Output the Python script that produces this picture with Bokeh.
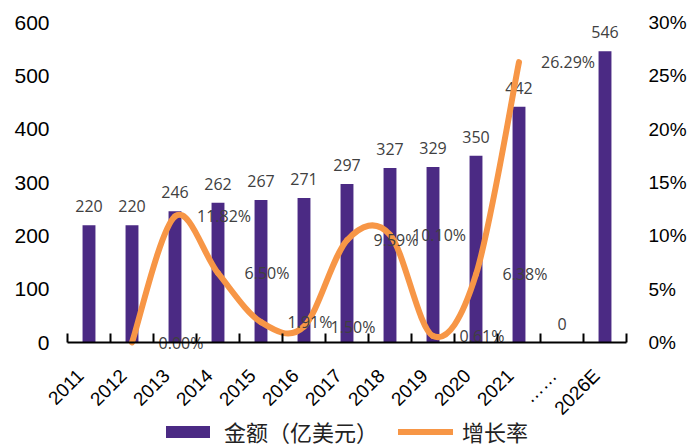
from bokeh.plotting import figure
from bokeh.models import (Range1d, LinearAxis, FixedTicker, ColumnDataSource,
                          Legend, LegendItem)
from bokeh.core.properties import value
from bokeh.embed import file_html
from bokeh.resources import INLINE

categories = ["2011", "2012", "2013", "2014", "2015", "2016", "2017",
              "2018", "2019", "2020", "2021", "……", "2026E"]
amounts = [220, 220, 246, 262, 267, 271, 297, 327, 329, 350, 442, 0, 546]
amount_labels = ["220", "220", "246", "262", "267", "271", "297", "327",
                 "329", "350", "442", "0", "546"]
growth_years = ["2012", "2013", "2014", "2015", "2016", "2017", "2018",
                "2019", "2020", "2021"]
growth = [0.00, 11.82, 6.50, 1.91, 1.50, 9.59, 10.10, 0.61, 6.38, 26.29]
growth_labels = ["0.00%", "11.82%", "6.50%", "1.91%", "1.50%", "9.59%",
                 "10.10%", "0.61%", "6.38%", "26.29%"]
left_ticks = [0, 100, 200, 300, 400, 500, 600]
right_ticks = [0, 5, 10, 15, 20, 25, 30]

PURPLE = "#4B2A84"
ORANGE = "#F79646"
GREY = "#404040"

n = len(categories)
xs = list(range(n))

# Layout (pixels): the frame covers the whole canvas; the value area sits
# inside it, so axis labels and legend are drawn without clipping.
W, H = 694, 447
AREA_L, AREA_W = 67, 559
AREA_T, AREA_H = 22, 320
left_max, right_max = 600.0, 30.0
ppx = AREA_W / n                       # px per category
x_start = -0.5 - AREA_L / ppx
x_end = n - 0.5 + (W - AREA_L - AREA_W) / ppx
lpu = left_max / AREA_H                # units per px
rpu = right_max / AREA_H
below_px = H - AREA_T - AREA_H
y_range = Range1d(-below_px * lpu, left_max + AREA_T * lpu)
pct_range = Range1d(-below_px * rpu, right_max + AREA_T * rpu)

p = figure(width=W, height=H, output_backend="svg", toolbar_location=None,
           x_range=Range1d(x_start, x_end), y_range=y_range,
           x_axis_type=None, y_axis_type=None,
           min_border=0, min_border_left=0, min_border_right=0,
           min_border_top=0, min_border_bottom=0)
p.outline_line_color = None
p.grid.visible = False
p.background_fill_color = "white"
p.extra_y_ranges = {"pct": pct_range}

# bars
bar_src = ColumnDataSource(dict(x=xs, top=amounts, label=amount_labels))
bars = p.vbar(x="x", top="top", bottom=0, width=0.3, source=bar_src,
              fill_color=PURPLE, line_color=None)
p.text(x="x", y="top", text="label", source=bar_src, y_offset=-19,
       text_align="center", text_baseline="alphabetic",
       text_font=value("Open Sans"), text_font_size="16px", text_color=GREY)

# smoothed growth line (Excel-style bezier through the data points)
gx = [categories.index(y) for y in growth_years]
m = len(growth)
x0, y0, x1, y1, cx0, cy0, cx1, cy1 = [], [], [], [], [], [], [], []
for i in range(m - 1):
    pa = (gx[max(i - 1, 0)], growth[max(i - 1, 0)])
    pb = (gx[i], growth[i])
    pc = (gx[i + 1], growth[i + 1])
    pd = (gx[min(i + 2, m - 1)], growth[min(i + 2, m - 1)])
    x0.append(pb[0]); y0.append(pb[1])
    x1.append(pc[0]); y1.append(pc[1])
    cx0.append(pb[0] + (pc[0] - pa[0]) / 6.0)
    cy0.append(pb[1] + (pc[1] - pa[1]) / 6.0)
    cx1.append(pc[0] - (pd[0] - pb[0]) / 6.0)
    cy1.append(pc[1] - (pd[1] - pb[1]) / 6.0)
bz_src = ColumnDataSource(dict(x0=x0, y0=y0, x1=x1, y1=y1,
                               cx0=cx0, cy0=cy0, cx1=cx1, cy1=cy1))
line = p.bezier(x0="x0", y0="y0", x1="x1", y1="y1", cx0="cx0", cy0="cy0",
                cx1="cx1", cy1="cy1", source=bz_src, line_color=ORANGE,
                line_width=6, line_cap="round", y_range_name="pct")

# growth labels (shown one category to the right, as in the source chart)
gl_src = ColumnDataSource(dict(x=[g + 1 for g in gx], y=growth,
                               label=growth_labels))
p.text(x="x", y="y", text="label", source=gl_src, x_offset=6,
       text_align="center", text_baseline="middle", y_range_name="pct",
       text_font=value("Open Sans"), text_font_size="16px", text_color=GREY)

# x axis pinned at the zero line, spanning the category area only
label_pos = [i - 0.2 for i in xs]
xa = LinearAxis(fixed_location=0, bounds=(-0.5, n - 0.5))
xa.ticker = FixedTicker(ticks=label_pos,
                        minor_ticks=[i - 0.5 for i in range(n + 1)])
xa.major_label_overrides = {pos: c for pos, c in zip(label_pos, categories)}
xa.major_label_orientation = 0.785398
xa.major_tick_in = 0
xa.major_tick_out = 0
xa.minor_tick_in = 9
xa.minor_tick_out = 0
xa.minor_tick_line_color = "black"
xa.minor_tick_line_width = 2
xa.axis_line_color = "black"
xa.axis_line_width = 2
xa.major_label_standoff = 30
xa.major_label_text_font = "Liberation Sans"
xa.major_label_text_font_size = "19px"
xa.major_label_text_color = "black"
p.add_layout(xa, "below")

# left axis pinned at the left edge of the category area
ya = LinearAxis(fixed_location=-0.5)
ya.ticker = FixedTicker(ticks=left_ticks)
ya.axis_line_color = None
ya.major_tick_line_color = None
ya.minor_tick_line_color = None
ya.major_label_standoff = 12
ya.major_label_text_font = "Liberation Sans"
ya.major_label_text_font_size = "21px"
ya.major_label_text_color = "black"
p.add_layout(ya, "left")

# right axis pinned at the right edge of the category area
ra = LinearAxis(y_range_name="pct", fixed_location=n - 0.5)
ra.ticker = FixedTicker(ticks=right_ticks)
ra.major_label_overrides = {t: f"{t}%" for t in right_ticks}
ra.axis_line_color = None
ra.major_tick_line_color = None
ra.minor_tick_line_color = None
ra.major_label_standoff = 16
ra.major_label_text_font = "Liberation Sans"
ra.major_label_text_font_size = "19px"
ra.major_label_text_color = "black"
p.add_layout(ra, "right")

legend = Legend(items=[LegendItem(label="金额（亿美元）", renderers=[bars]),
                       LegendItem(label="增长率", renderers=[line])],
                location=(160, 0), orientation="horizontal",
                glyph_width=55, glyph_height=15, label_standoff=9,
                spacing=20, padding=0, margin=0,
                border_line_color=None, background_fill_alpha=0,
                label_text_font="Noto Sans CJK SC",
                label_text_font_size="22px", label_text_color="#222222")
p.add_layout(legend, "center")

open("out.html", "w").write(file_html(p, INLINE))
